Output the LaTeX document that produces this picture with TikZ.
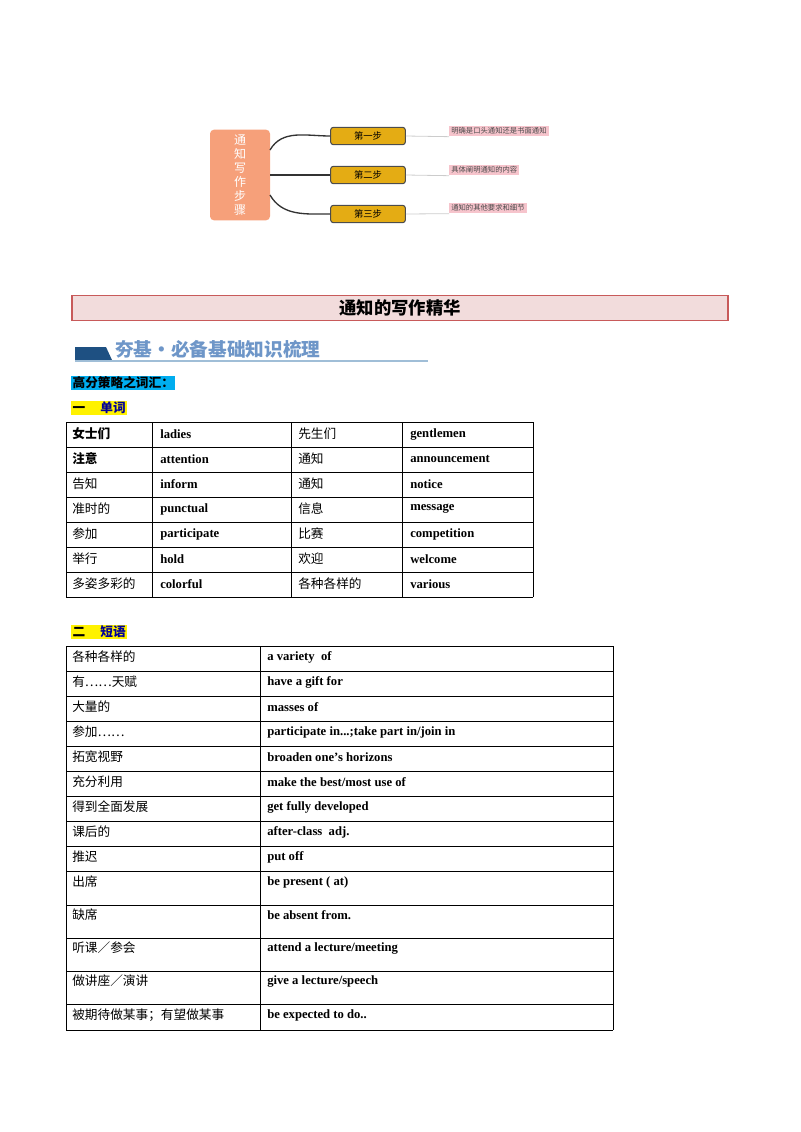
\documentclass[tikz,border=0pt]{standalone}
\usepackage{fontspec}
\setmainfont{Liberation Serif}
\newfontfamily\cjk{Noto Sans CJK SC}
\definecolor{gold}{RGB}{228,172,20}
\definecolor{salmon}{RGB}{246,160,122}
\definecolor{pinktag}{RGB}{246,196,204}
\definecolor{titlered}{RGB}{200,90,90}
\definecolor{titlefill}{RGB}{242,220,220}
\definecolor{navy}{RGB}{30,80,130}
\definecolor{lineblue}{RGB}{160,190,215}
\definecolor{headblue}{RGB}{110,150,200}
\newcommand\myrowA[5]{\node[zh] at (72,#1) {#2}; \node[en] at (160,#1) {#3}; \node[zh] at (298,#1) {#4}; \node[en] at (410,#1) {#5};}
\newcommand\myrowB[3]{\node[zh] at (72,#1) {#2}; \node[en] at (267,#1) {#3};}
\begin{document}
\begin{tikzpicture}[x=0.75pt,y=-0.75pt,
  cell/.style={anchor=west,inner sep=0pt,font=\fontsize{9.5}{11}\selectfont},
  zh/.style={cell,font=\cjk\fontsize{9.5}{11}\selectfont},
  en/.style={cell,font=\fontsize{9.5}{11}\selectfont\bfseries},
  stepbox/.style={draw=black!70,line width=0.8pt,fill=gold,rounded corners=2pt,minimum width=56pt,minimum height=13pt,inner sep=0pt,font=\cjk\fontsize{7}{8}\selectfont},
  tag/.style={fill=pinktag,inner sep=1.5pt,anchor=west,font=\cjk\fontsize{5.5}{6}\selectfont,text=black!70}]
\useasboundingbox (0,0) rectangle (800,1132);
% mind map
\node[fill=salmon,rounded corners=3pt,minimum width=45pt,minimum height=68pt,text=white,align=center,font=\cjk\fontsize{9}{10.5}\selectfont] (root) at (240,175) {通\\知\\写\\作\\步\\骤};
\node[stepbox] (s1) at (368,136) {第一步};
\node[stepbox] (s2) at (368,175) {第二步};
\node[stepbox] (s3) at (368,214) {第三步};
\node[tag] (t1) at (449,131) {明确是口头通知还是书面通知};
\node[tag] (t2) at (449,170) {具体阐明通知的内容};
\node[tag] (t3) at (449,208) {通知的其他要求和细节};
\draw[line width=1pt,black!80] (270,150) to[out=60,in=180] (s1.west);
\draw[line width=1pt,black!80] (270,175) -- (s2.west);
\draw[line width=1pt,black!80] (270,195) to[out=-60,in=180] (s3.west);
\draw[black!20,line width=0.6pt] (s1.east) -- (t1.south west);
\draw[black!20,line width=0.6pt] (s2.east) -- (t2.south west);
\draw[black!20,line width=0.6pt] (s3.east) -- (t3.south west);
% title
\node[draw=titlered,line width=1.2pt,fill=titlefill,minimum width=492pt,minimum height=19pt,inner sep=0pt,font=\cjk\bfseries\fontsize{13}{15}\selectfont] (title) at (400,308) {通知的写作精华};
\fill[navy] (75,347) -- (106,347) -- (112,360) -- (75,360) -- cycle;
\draw[lineblue,line width=1pt] (75,361) -- (428,361);
\node[anchor=west,inner sep=0pt,text=headblue,font=\cjk\bfseries\fontsize{14}{16}\selectfont] (h1) at (115,349) {夯基·必备基础知识梳理};
\node[anchor=west,fill=cyan,inner sep=1pt,font=\cjk\bfseries\fontsize{9.5}{11}\selectfont] (h2) at (71,383) {高分策略之词汇：};
\node[anchor=west,fill=yellow,inner sep=1pt,font=\cjk\bfseries\fontsize{9.5}{11}\selectfont] (h3) at (71,408) {一\hspace{1.2em}{\color{blue!60!black}单词}};
\node[anchor=west,fill=yellow,inner sep=1pt,font=\cjk\bfseries\fontsize{9.5}{11}\selectfont] (h4) at (71,632) {二\hspace{1.2em}{\color{blue!60!black}短语}};
% table 1
\foreach \y in {422,447,472,497,522,547,572,597} \draw[line width=0.6pt] (66,\y) -- (533,\y);
\foreach \x in {66,152,291,402,533} \draw[line width=0.6pt] (\x,422) -- (\x,597);
\myrowA{434}{\bfseries 女士们}{ladies}{先生们}{gentlemen}
\myrowA{459}{\bfseries 注意}{attention}{通知}{announcement}
\myrowA{484}{告知}{inform}{通知}{notice}
\myrowA{509}{准时的}{punctual}{信息}{message}
\myrowA{534}{参加}{participate}{比赛}{competition}
\myrowA{559}{举行}{hold}{欢迎}{welcome}
\myrowA{584}{多姿多彩的}{colorful}{各种各样的}{various}
% table 2
\foreach \y in {646,671,696,721,746,771,796,821,846,871,905,938,971,1004,1030} \draw[line width=0.6pt] (66,\y) -- (613,\y);
\foreach \x in {66,260,613} \draw[line width=0.6pt] (\x,646) -- (\x,1030);
\myrowB{657}{各种各样的}{a variety\ \ of}
\myrowB{682}{有……天赋}{have a gift for}
\myrowB{707}{大量的}{masses of}
\myrowB{732}{参加……}{participate in...;take part in/join in}
\myrowB{757}{拓宽视野}{broaden one’s horizons}
\myrowB{782}{充分利用}{make the best/most use of}
\myrowB{807}{得到全面发展}{get fully developed}
\myrowB{832}{课后的}{after-class\ \ adj.}
\myrowB{857}{推迟}{put off}
\myrowB{882}{出席}{be present ( at)}
\myrowB{915}{缺席}{be absent from.}
\myrowB{948}{听课／参会}{attend a lecture/meeting}
\myrowB{981}{做讲座／演讲}{give a lecture/speech}
\myrowB{1015}{被期待做某事；有望做某事}{be expected to do..}
\end{tikzpicture}
\end{document}
